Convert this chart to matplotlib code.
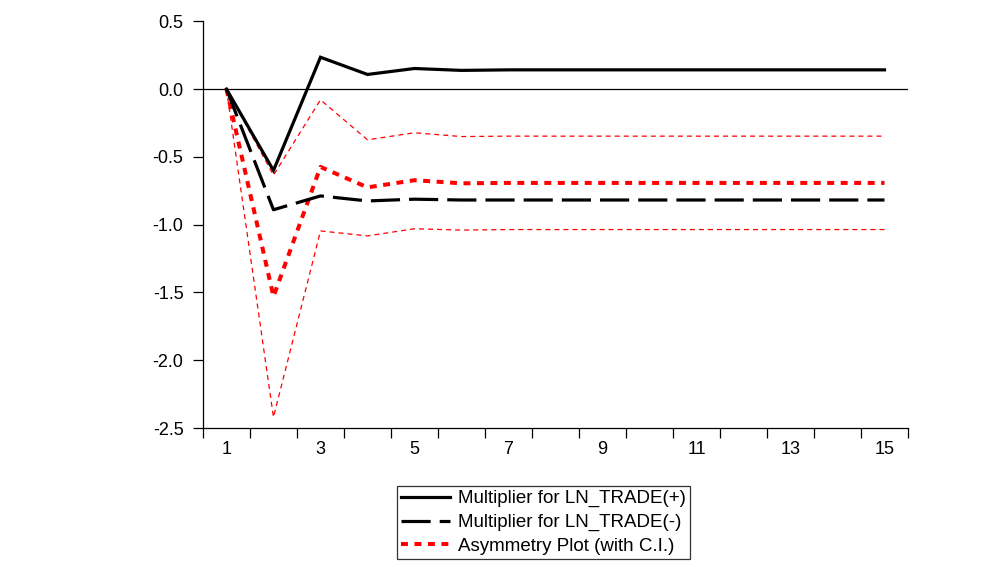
import matplotlib
matplotlib.use("Agg")
import matplotlib.pyplot as plt
import numpy as np

plt.rcParams['font.family'] = ['Liberation Sans', 'DejaVu Sans']
plt.rcParams['lines.scale_dashes'] = False

# horizon (periods)
periods = list(range(1, 16))

# multiplier values
mult_pos = [0.0, -0.60, 0.235, 0.108, 0.152, 0.138, 0.142, 0.142, 0.142, 0.142, 0.142, 0.142, 0.142, 0.142, 0.142]
mult_neg = [0.0, -0.89, -0.788, -0.825, -0.812, -0.818, -0.818, -0.818, -0.818, -0.818, -0.818, -0.818, -0.818, -0.818, -0.818]
asym = [0.0, -1.53, -0.574, -0.725, -0.672, -0.695, -0.692, -0.692, -0.692, -0.692, -0.692, -0.692, -0.692, -0.692, -0.692]
ci_up = [0.0, -0.635, -0.079, -0.374, -0.322, -0.350, -0.347, -0.347, -0.347, -0.347, -0.347, -0.347, -0.347, -0.347, -0.347]
ci_low = [0.0, -2.42, -1.046, -1.083, -1.030, -1.040, -1.036, -1.036, -1.036, -1.036, -1.036, -1.036, -1.036, -1.036, -1.036]

yticks = [0.5, 0.0, -0.5, -1.0, -1.5, -2.0, -2.5]
xlabels = [1, 3, 5, 7, 9, 11, 13, 15]

fig = plt.figure(figsize=(9.81, 5.67), dpi=100)
ax = fig.add_axes([0.2069, 0.2451, 0.9256 - 0.2069, 0.9624 - 0.2451])

ax.axhline(0, color='black', lw=0.9, zorder=1)

ax.plot(periods, ci_up, color='red', lw=0.9, dashes=(3.6, 2.9))
ax.plot(periods, ci_low, color='red', lw=0.9, dashes=(3.6, 2.9))
h3, = ax.plot(periods, asym, color='red', lw=2.9, dashes=(5.0, 4.7))
h2, = ax.plot(periods, mult_neg, color='black', lw=2.3, dashes=(21, 6.5))
h1, = ax.plot(periods, mult_pos, color='black', lw=2.3, solid_joinstyle='miter')

ax.set_xlim(0.5, 15.5)
ax.set_ylim(-2.5, 0.5)

for s in ['top', 'right']:
    ax.spines[s].set_visible(False)
ax.spines['left'].set_linewidth(0.9)
ax.spines['bottom'].set_linewidth(0.9)

ax.set_yticks(yticks)
ax.set_yticklabels(['%.1f' % v for v in yticks], fontsize=13)
ax.tick_params(axis='y', direction='out', length=7, width=0.9, pad=7)

# ticks between periods, labels on odd periods
ax.set_xticks(np.arange(0.5, 15.6, 1.0))
ax.set_xticklabels([])
ax.tick_params(axis='x', which='major', direction='out', length=7, width=0.9)
ax.set_xticks(xlabels, minor=True)
ax.set_xticklabels([str(v) for v in xlabels], minor=True, fontsize=13)
ax.tick_params(axis='x', which='minor', length=0, pad=9)

leg = fig.legend([h1, h2, h3],
                 ['Multiplier for LN_TRADE(+)', 'Multiplier for LN_TRADE(-)', 'Asymmetry Plot (with C.I.)'],
                 loc='upper left', bbox_to_anchor=(397 / 981, 1 - 486 / 567),
                 fontsize=13.5, frameon=True, fancybox=False, handlelength=2.6,
                 handletextpad=0.45, labelspacing=0.35, borderpad=0.22, borderaxespad=0)
leg.get_frame().set_edgecolor('black')
leg.get_frame().set_linewidth(0.9)

fig.savefig('out.png', dpi=100)
